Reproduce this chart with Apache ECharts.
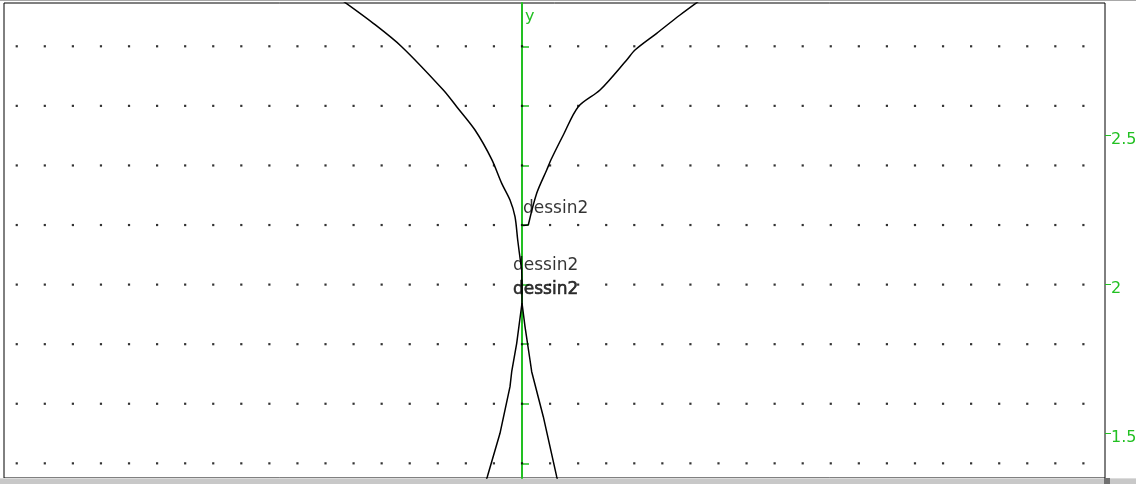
<!DOCTYPE html>
<html>
<head>
<meta charset="utf-8">
<script src="https://cdn.jsdelivr.net/npm/echarts@6/dist/echarts.min.js"></script>
<style>
  html, body { margin: 0; padding: 0; background: #fff; }
  #chart { width: 1136px; height: 484px; }
</style>
</head>
<body>
<div id="chart"></div>
<script>
// Visible window of the geometry view (data units)
const xRange = [-3.6908, 4.1539];
const yRange = [1.3508, 2.9453];

// Dot lattice of the drawing area (step 0.2)
const latticeX = [-3.6, -3.4, -3.2, -3.0, -2.8, -2.6, -2.4, -2.2, -2.0, -1.8, -1.6, -1.4, -1.2, -1.0,
  -0.8, -0.6, -0.4, -0.2, 0.0, 0.2, 0.4, 0.6, 0.8, 1.0, 1.2, 1.4, 1.6, 1.8, 2.0, 2.2, 2.4, 2.6,
  2.8, 3.0, 3.2, 3.4, 3.6, 3.8, 4.0];
const latticeY = [1.4, 1.6, 1.8, 2.0, 2.2, 2.4, 2.6, 2.8];

// Labelled ticks on the right edge, and small ticks along the y axis
const rightTicks = [1.5, 2, 2.5];
const yAxisTicks = [1.4, 1.6, 1.8, 2.0, 2.2, 2.4, 2.6, 2.8];

// Curves of "dessin2"
const leftBranch = [
  [-1.2754, 2.9520], [-1.0595, 2.8771], [-0.8572, 2.7986], [-0.5607, 2.6532],
  [-0.4653, 2.5972], [-0.3349, 2.5190], [-0.2159, 2.4206], [-0.1446, 2.3400],
  [-0.0855, 2.2840], [-0.0499, 2.2279], [-0.0306, 2.1497], [-0.0093, 2.0725],
  [-0.0021, 2.0500], [0.0, 1.9382]
];
const lowerLeft = [
  [0.0, 1.9382], [-0.0378, 1.8030], [-0.0734, 1.7076], [-0.0855, 1.6573],
  [-0.1568, 1.5008], [-0.2472, 1.3552], [-0.2636, 1.3306]
];
const rightBranch = [
  [1.2611, 2.9520], [1.1258, 2.9050], [0.9598, 2.8436], [0.8051, 2.7875],
  [0.7460, 2.7540], [0.5558, 2.6532], [0.4011, 2.5972], [0.2943, 2.5022],
  [0.2116, 2.4240], [0.1760, 2.3847], [0.1047, 2.3065], [0.0449, 2.2001]
];
const rightFoot = [[0.0449, 2.2001], [0.0071, 2.1988]];
const lowerRight = [
  [0.0, 1.9382], [0.0214, 1.8587], [0.0570, 1.7469], [0.0691, 1.7076],
  [0.1518, 1.5566], [0.2472, 1.3552], [0.2601, 1.3306]
];

// Object names written next to the figure
const nameTags = [
  { x: 0.0071, y: 2.2555, text: 'dessin2', heavy: false },
  { x: -0.0641, y: 2.0624, text: 'dessin2', heavy: false },
  { x: -0.0641, y: 1.9819, text: 'dessin2', heavy: true }
];

const GREEN = '#22c022';
const FONT = '"DejaVu Sans", Verdana, sans-serif';

const lattice = [];
latticeX.forEach(x => latticeY.forEach(y => lattice.push([x, y])));

const curveStyle = { color: '#000', width: 1.5 };
const curve = (data, smooth) => ({
  type: 'line', data, symbol: 'none', smooth, lineStyle: curveStyle, clip: true, z: 3, silent: true
});

const chart = echarts.init(document.getElementById('chart'), null, { renderer: 'canvas' });
chart.setOption({
  animation: false,
  backgroundColor: '#fff',
  grid: {
    left: 4, top: 3, width: 1101, height: 475,
    outerBoundsMode: 'none', containLabel: false,
    show: true, borderColor: '#000', borderWidth: 1, backgroundColor: '#fff'
  },
  xAxis: {
    type: 'value', min: xRange[0], max: xRange[1],
    axisLine: { show: false, onZero: false },
    axisTick: { show: false }, axisLabel: { show: false }, splitLine: { show: false }
  },
  yAxis: [
    {
      // y axis drawn through x = 0
      type: 'value', position: 'left', min: yRange[0], max: yRange[1],
      name: 'y', nameLocation: 'end', nameGap: -22,
      nameTextStyle: { color: GREEN, fontFamily: FONT, fontSize: 16, align: 'left', padding: [0, 0, 0, 3] },
      axisLine: { show: true, onZero: true, lineStyle: { color: GREEN, width: 2 } },
      axisTick: { show: true, inside: true, length: 7, customValues: yAxisTicks, lineStyle: { color: GREEN, width: 1.5 } },
      axisLabel: { show: false },
      splitLine: { show: false }
    },
    {
      // graduation on the right edge of the view
      type: 'value', position: 'right', min: yRange[0], max: yRange[1],
      axisLine: { show: false, onZero: false },
      axisTick: { show: true, length: 6, customValues: rightTicks, lineStyle: { color: GREEN, width: 1 } },
      axisLabel: {
        show: true, customValues: rightTicks, margin: 6, color: GREEN,
        fontFamily: FONT, fontSize: 16, verticalAlign: 'top', lineHeight: 9,
        formatter: v => String(v)
      },
      splitLine: { show: false }
    }
  ],
  series: [
    {
      type: 'scatter', data: lattice, symbol: 'rect', symbolSize: 2.2,
      itemStyle: { color: '#000' }, silent: true, z: 1
    },
    curve(leftBranch, 0.3),
    curve(lowerLeft, false),
    curve(rightBranch, 0.3),
    curve(rightFoot, false),
    curve(lowerRight, false),
    {
      type: 'scatter', symbolSize: 0, z: 4, silent: true,
      data: nameTags.map(t => ({
        value: [t.x, t.y],
        label: {
          show: true, position: [0, 0], formatter: t.text, align: 'left', verticalAlign: 'middle',
          color: '#000', fontFamily: FONT, fontSize: 17,
          textBorderColor: t.heavy ? '#000' : 'transparent', textBorderWidth: t.heavy ? 0.6 : 0
        }
      }))
    }
  ],
  graphic: [
    { type: 'rect', shape: { x: 0, y: 0, width: 1136, height: 1 }, style: { fill: '#a8a8a8' }, silent: true },
    { type: 'rect', shape: { x: 0, y: 478, width: 1136, height: 6 }, style: { fill: '#c8c8c8' }, silent: true },
    { type: 'rect', shape: { x: 0, y: 478, width: 1136, height: 1 }, style: { fill: '#dcdcdc' }, silent: true },
    { type: 'rect', shape: { x: 1104, y: 478, width: 6, height: 6 }, style: { fill: '#707070' }, silent: true }
  ]
});
</script>
</body>
</html>
